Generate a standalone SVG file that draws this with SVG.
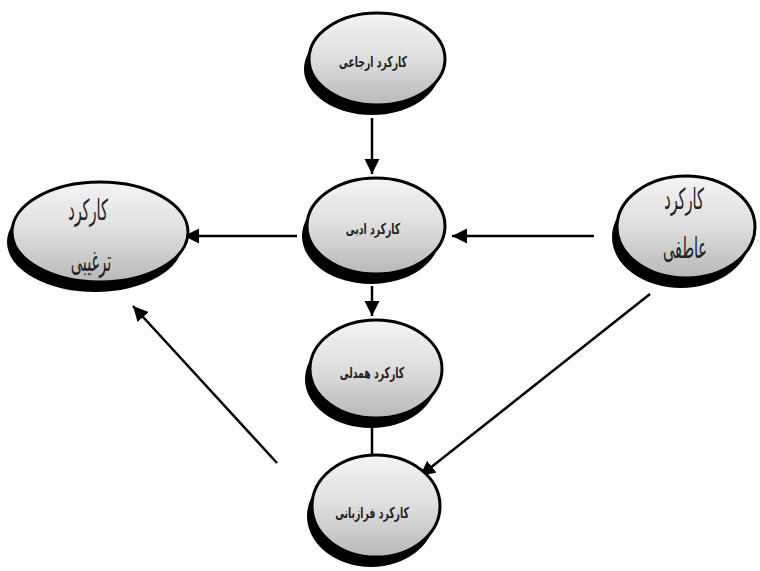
<svg xmlns="http://www.w3.org/2000/svg" width="760" height="571" viewBox="0 0 760 571">
<defs>
<linearGradient id="g" x1="0" y1="0" x2="0" y2="1">
<stop offset="0" stop-color="#f4f4f4"/>
<stop offset="0.5" stop-color="#dedede"/>
<stop offset="1" stop-color="#b8b8b8"/>
</linearGradient>
<marker id="ah" markerUnits="userSpaceOnUse" markerWidth="16" markerHeight="16" viewBox="0 0 16 16" refX="15" refY="8" orient="auto">
<path d="M0,0.5 L15,8 L0,15.5 z" fill="#000"/>
</marker>
</defs>
<style>
.sh{fill:#000}
.el{fill:url(#g);stroke:#000;stroke-width:3}
.ln{stroke:#000;stroke-width:2.5;fill:none}
.ar{marker-end:url(#ah)}
.t{font-family:"DejaVu Sans",sans-serif;font-weight:bold;font-size:15px;text-anchor:middle;fill:#222}
.tb{font-family:"DejaVu Sans",sans-serif;font-size:29px;text-anchor:middle;fill:#222}
</style>
<g id="connectors">
<line class="ln ar" x1="372" y1="118" x2="372" y2="174"/>
<line class="ln ar" x1="297" y1="236" x2="184" y2="236"/>
<line class="ln ar" x1="594" y1="236" x2="452" y2="236"/>
<line class="ln ar" x1="372" y1="286" x2="372" y2="316"/>
<line class="ln" x1="372" y1="455" x2="372" y2="420"/>
<line class="ln ar" x1="277" y1="463" x2="133" y2="306"/>
<line class="ln ar" x1="650" y1="294" x2="420" y2="476"/>
</g>
<g id="n-erjaei">
<ellipse class="sh" cx="372" cy="69" rx="68" ry="46"/>
<ellipse class="el" cx="377" cy="59" rx="68" ry="46"/>
<text class="t" transform="translate(373,67) scale(0.62,1)" direction="rtl">کارکرد ارجاعی</text>
</g>
<g id="n-adabi">
<ellipse class="sh" cx="371" cy="236" rx="69" ry="48"/>
<ellipse class="el" cx="376" cy="226" rx="69" ry="48"/>
<text class="t" transform="translate(373,234) scale(0.62,1)" direction="rtl">کارکرد ادبی</text>
</g>
<g id="n-hamdeli">
<ellipse class="sh" cx="371" cy="379" rx="66" ry="49"/>
<ellipse class="el" cx="376" cy="369" rx="66" ry="49"/>
<text class="t" transform="translate(372,378) scale(0.62,1)" direction="rtl">کارکرد همدلی</text>
</g>
<g id="n-farazabani">
<ellipse class="sh" cx="371" cy="516" rx="64" ry="51"/>
<ellipse class="el" cx="376" cy="506" rx="64" ry="51"/>
<text class="t" transform="translate(372,518) scale(0.62,1)" direction="rtl">کارکرد فرازبانی</text>
</g>
<g id="n-targhibi">
<ellipse class="sh" cx="95" cy="242" rx="88" ry="50"/>
<ellipse class="el" cx="100" cy="232" rx="88" ry="50"/>
<text class="tb" transform="translate(88,220) scale(0.5,1)" direction="rtl">کارکرد</text>
<text class="tb" transform="translate(91,271) scale(0.5,1)" direction="rtl">ترغیبی</text>
</g>
<g id="n-atefi">
<ellipse class="sh" cx="681" cy="237" rx="69" ry="51"/>
<ellipse class="el" cx="686" cy="227" rx="69" ry="51"/>
<text class="tb" transform="translate(684,209) scale(0.5,1)" direction="rtl">کارکرد</text>
<text class="tb" transform="translate(685,258) scale(0.5,1)" direction="rtl">عاطفی</text>
</g>
</svg>
